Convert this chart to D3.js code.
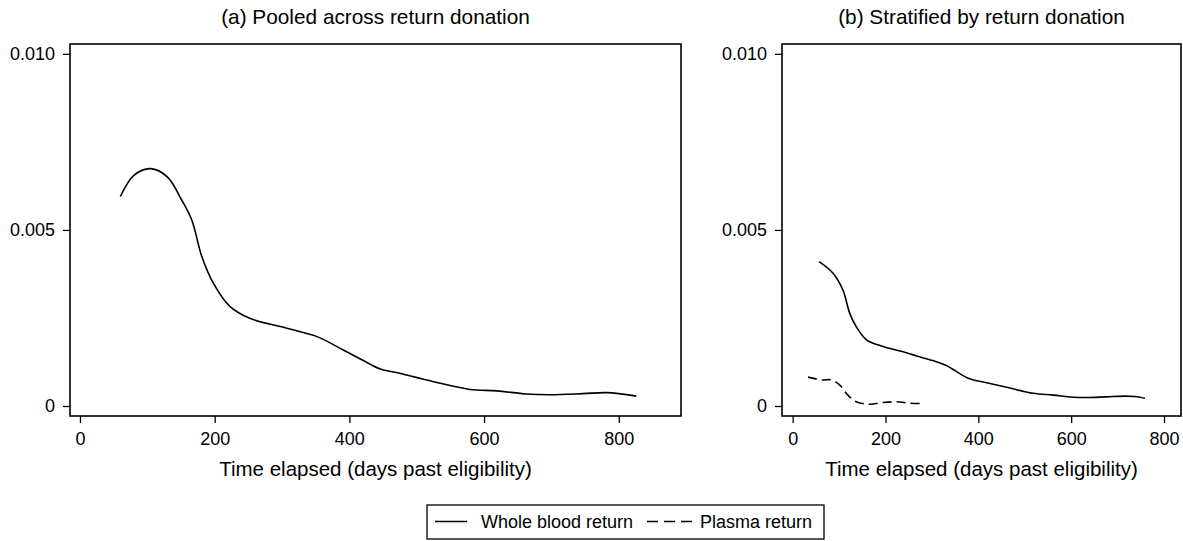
<!DOCTYPE html>
<html><head><meta charset="utf-8">
<script src="https://cdn.jsdelivr.net/npm/d3@7"></script>
<style>body{margin:0;background:#fff;} text{font-family:"Liberation Sans",Arial,sans-serif;fill:#000;}</style>
</head><body>
<svg id="c" width="1183" height="541"></svg>
<script>
const panelTitles = ["(a) Pooled across return donation", "(b) Stratified by return donation"];
const xTicks = [0, 200, 400, 600, 800];
const yTicks = [0, 0.005, 0.010];
const yTickLabels = ["0", "0.005", "0.010"];
const xLabel = "Time elapsed (days past eligibility)";
const legendLabels = ["Whole blood return", "Plasma return"];

// Panel (a): pooled
const pooledX = [60,80,105,130,151,166,181,198,223,252,307,352,391,420,446,475,485,525,579,619,663,698,747,782,826];
const pooledY = [0.00595,0.00655,0.00674,0.00650,0.00585,0.00528,0.00424,0.00349,0.00282,0.00249,0.00221,0.00197,0.00159,0.00130,0.00105,0.00093,0.00088,0.00069,0.00047,0.00043,0.00034,0.00032,0.00035,0.00038,0.00028];
// Panel (b): whole blood return
const wbX = [57,87,108,123,137,159,195,238,267,302,331,378,418,461,518,561,604,633,676,716,737,759];
const wbY = [0.00410,0.00377,0.00330,0.00263,0.00225,0.00188,0.00169,0.00154,0.00142,0.00129,0.00115,0.00079,0.00066,0.00053,0.00036,0.00031,0.00025,0.00024,0.00026,0.00028,0.00027,0.00022];
// Panel (b): plasma return
const plX = [33,62,84,101,119,137,166,195,224,252,274];
const plY = [0.00082,0.00074,0.00074,0.00060,0.00031,0.00012,0.00005,0.00010,0.00012,0.00008,0.00007];

(function(){
const FONT = '"Liberation Sans",Arial,sans-serif';
const svg = d3.select("#c");
const panels = [
  {left:70, right:681, xdom:[-14.8, 892.4], title:panelTitles[0], series:[{x:pooledX,y:pooledY,dash:null}]},
  {left:782, right:1181, xdom:[-23, 836.6], title:panelTitles[1], series:[{x:wbX,y:wbY,dash:null},{x:plX,y:plY,dash:"9,5"}]}
];
const plotTop = 44, plotBottom = 416;
const y = d3.scaleLinear().domain([-0.000284, 0.01028]).range([plotBottom, plotTop]);

panels.forEach(p => {
  const x = d3.scaleLinear().domain(p.xdom).range([p.left, p.right]);
  const g = svg.append("g");
  g.append("rect").attr("x", p.left).attr("y", plotTop).attr("width", p.right - p.left).attr("height", plotBottom - plotTop)
    .attr("fill", "none").attr("stroke", "#000").attr("stroke-width", 1.6);
  const ya = g.append("g").attr("transform", `translate(${p.left},0)`)
    .call(d3.axisLeft(y).tickValues(yTicks).tickFormat((d,i)=>yTickLabels[i]).tickSize(7).tickPadding(8));
  ya.select(".domain").remove();
  ya.selectAll("line").attr("stroke-width", 1.3);
  ya.selectAll("text").attr("font-size", 18).style("font-family", FONT);
  const xa = g.append("g").attr("transform", `translate(0,${plotBottom})`)
    .call(d3.axisBottom(x).tickValues(xTicks).tickFormat(d3.format("d")).tickSize(7).tickPadding(9));
  xa.select(".domain").remove();
  xa.selectAll("line").attr("stroke-width", 1.3);
  xa.selectAll("text").attr("font-size", 18).style("font-family", FONT);
  g.append("text").attr("x", (p.left + p.right) / 2).attr("y", 23.5).attr("text-anchor", "middle")
    .attr("font-size", 20.8).text(p.title);
  g.append("text").attr("x", (p.left + p.right) / 2).attr("y", 476).attr("text-anchor", "middle")
    .attr("font-size", 20.5).text(xLabel);
  const line = d3.line().x(d => x(d[0])).y(d => y(d[1])).curve(d3.curveCatmullRom.alpha(0.5));
  p.series.forEach(s => {
    g.append("path").datum(s.x.map((v,i)=>[v, s.y[i]])).attr("d", line)
      .attr("fill", "none").attr("stroke", "#000").attr("stroke-width", 1.6)
      .attr("stroke-dasharray", s.dash);
  });
});

const lg = svg.append("g");
lg.append("rect").attr("x", 427).attr("y", 505).attr("width", 397).attr("height", 34)
  .attr("fill", "#fff").attr("stroke", "#000").attr("stroke-width", 1.3);
lg.append("line").attr("x1", 435).attr("x2", 467).attr("y1", 521.5).attr("y2", 521.5).attr("stroke", "#000").attr("stroke-width", 1.5);
lg.append("text").attr("x", 481).attr("y", 528).attr("font-size", 18).text(legendLabels[0]);
lg.append("line").attr("x1", 647).attr("x2", 695).attr("y1", 521.5).attr("y2", 521.5).attr("stroke", "#000").attr("stroke-width", 1.5).attr("stroke-dasharray", "11,6");
lg.append("text").attr("x", 700).attr("y", 528).attr("font-size", 18).text(legendLabels[1]);
})();
</script>
</body></html>
